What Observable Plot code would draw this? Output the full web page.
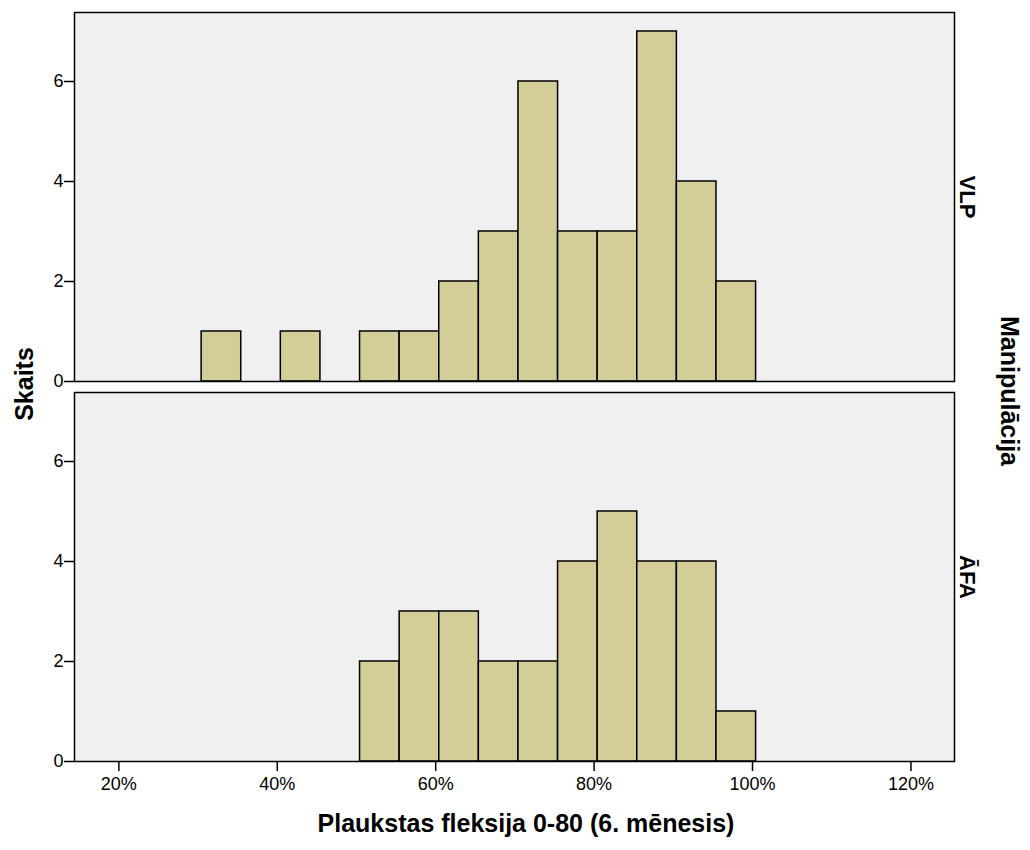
<!DOCTYPE html>
<html>
<head>
<meta charset="utf-8">
<script src="https://cdn.jsdelivr.net/npm/d3@7"></script>
<script src="https://cdn.jsdelivr.net/npm/@observablehq/plot@0.6"></script>
<style>
  html, body { margin: 0; padding: 0; background: #ffffff; }
  #chart { width: 1030px; height: 850px; }
</style>
</head>
<body>
<div id="chart"></div>
<script>
// Facet groups (Manipulācija)
const groups = ["VLP", "ĀFA"];
// Histogram bin edges (% of 0-80 scale)
const binEdges = [30.45, 35.45, 40.45, 45.45, 50.45, 55.45, 60.45, 65.45, 70.45, 75.45, 80.45, 85.45, 90.45, 95.45, 100.45];
// Counts per bin (Skaits)
const vlpCounts = [1, 0, 1, 0, 1, 1, 2, 3, 6, 3, 3, 7, 4, 2];
const afaCounts = [0, 0, 0, 0, 2, 3, 3, 2, 2, 4, 5, 4, 4, 1];
// Tick values
const xTicks = [20, 40, 60, 80, 100, 120];
const yTicks = [0, 2, 4, 6];

const countsByGroup = [vlpCounts, afaCounts];
const rows = [];
groups.forEach((g, gi) => {
  countsByGroup[gi].forEach((c, i) => {
    if (c > 0) rows.push({group: g, x1: binEdges[i], x2: binEdges[i + 1], count: c});
  });
});

const chart = Plot.plot({
  width: 1030,
  height: 850,
  marginTop: 12,
  marginLeft: 74,
  marginRight: 76,
  marginBottom: 89,
  style: {fontFamily: "'Liberation Sans', Arial, sans-serif", fontSize: "18px", background: "#ffffff", color: "#000"},
  x: {domain: [14.4, 125.5], label: null},
  y: {domain: [0, 7.38], label: null},
  fy: {domain: groups, paddingInner: 0.029, paddingOuter: 0, label: null},
  marks: [
    Plot.frame({fill: "#f0f0f0"}),
    Plot.rect(rows, {x1: "x1", x2: "x2", y1: 0, y2: "count", fy: "group", fill: "#d3ce98", stroke: "#000", strokeWidth: 1.5}),
    Plot.frame({stroke: "#000", strokeWidth: 1.5}),
    Plot.axisX({ticks: xTicks, tickFormat: d => d + "%", tickSize: 10, tickPadding: 6, strokeWidth: 1.5, label: null, fontSize: 18}),
    Plot.axisY({ticks: yTicks, tickSize: 10, tickPadding: 1, strokeWidth: 1.5, label: null, fontSize: 18}),
    Plot.axisFy({anchor: "right", tickRotate: 90, tickSize: 0, tickPadding: 21, label: null, fontSize: 22, fontWeight: "bold"})
  ]
});

document.getElementById("chart").appendChild(chart);

const svg = d3.select(chart);
svg.selectAll("text")
  .filter(function () { return /^\d+%?$/.test(this.textContent.trim()); })
  .style("font-size", "18px")
  .style("font-family", "'Liberation Sans', Arial, sans-serif");

const bold = {"font-family": "'Liberation Sans', Arial, sans-serif", "font-weight": "bold", "font-size": "25px", "fill": "#000"};
function addText(txt, x, y, rot, anchor) {
  const t = svg.append("text")
    .attr("transform", `translate(${x},${y}) rotate(${rot})`)
    .attr("text-anchor", anchor || "middle")
    .text(txt);
  Object.entries(bold).forEach(([k, v]) => t.attr(k, v));
  return t;
}
addText("Plaukstas fleksija 0-80 (6. mēnesis)", 526, 832, 0);
addText("Skaits", 33, 384, -90);
addText("Manipulācija", 1001, 391, 90);
</script>
</body>
</html>
